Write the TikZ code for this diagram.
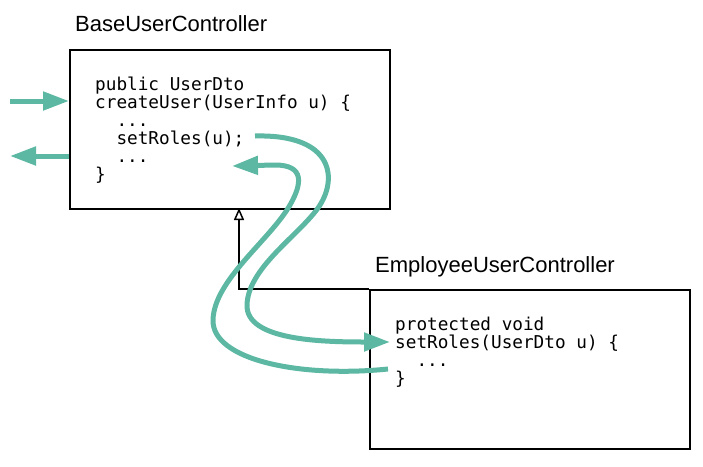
\documentclass[tikz,border=0pt]{standalone}
\usepackage{fontspec}
\setmainfont{Liberation Sans}
\newfontfamily\codefont{DejaVu Sans Mono}
\usetikzlibrary{arrows.meta}
\definecolor{flowteal}{RGB}{92,184,163}
\begin{document}
\begin{tikzpicture}[x=1pt,y=-1pt,
  box/.style={draw=black, line width=2pt, minimum width=320pt, minimum height=159pt, anchor=north west, inner sep=0pt},
  title/.style={font=\fontsize{22}{26}\selectfont, anchor=base west, inner sep=0pt},
  code/.style={font=\codefont\fontsize{17.7}{18}\selectfont, anchor=base west, inner sep=0pt},
  flow/.style={draw=flowteal, line width=5pt, -{Triangle[length=26pt,width=18pt]}},
  inh/.style={draw=black, line width=1.5pt, -{Triangle[open,length=12pt,width=10pt]}}]
\useasboundingbox (0,0) rectangle (703,466);
% boxes
\node[box] (b1) at (69,49) {};
\node[box] (b2) at (369,289) {};
\node[title] (t1) at (75,31) {BaseUserController};
\node[title] (t2) at (375,272) {EmployeeUserController};
% code in box 1
\node[code] (l1) at (95,90) {public UserDto};
\node[code] (l2) at (95,108) {createUser(UserInfo u) \{};
\node[code] (l3) at (95,126) {\phantom{xx}...};
\node[code] (l4) at (95,144) {\phantom{xx}setRoles(u);};
\node[code] (l5) at (95,162) {\phantom{xx}...};
\node[code] (l6) at (95,180) {\}};
% code in box 2
\node[code] (m1) at (395,330) {protected void};
\node[code] (m2) at (395,348) {setRoles(UserDto u) \{};
\node[code] (m3) at (395,366) {\phantom{xx}...};
\node[code] (m4) at (395,384) {\}};
% inheritance
\coordinate (gen) at (239,208);
\draw[inh] (b2.north west) -| (gen);
% entry / exit arrows
\coordinate (inL) at (10,101);
\coordinate (outL) at (10,156);
\draw[flow] (inL) -- (inL -| b1.west);
\draw[flow] (outL -| b1.west) -- (outL);
% call and return
\coordinate (c1s) at (255,136);
\coordinate (c1e) at (390,342);
\coordinate (c2s) at (388,369);
\coordinate (c2e) at (232,166);
\draw[flow] (c1s) .. controls (335,134) and (338,180) .. (318,208)
  .. controls (298,236) and (248,268) .. (247,305)
  .. controls (246,340) and (320,342) .. (c1e);
\draw[flow] (c2s) .. controls (300,378) and (212,360) .. (213,320)
  .. controls (214,280) and (270,240) .. (290,205)
  .. controls (302,184) and (305,165) .. (275,165) -- (c2e);
\end{tikzpicture}
\end{document}
